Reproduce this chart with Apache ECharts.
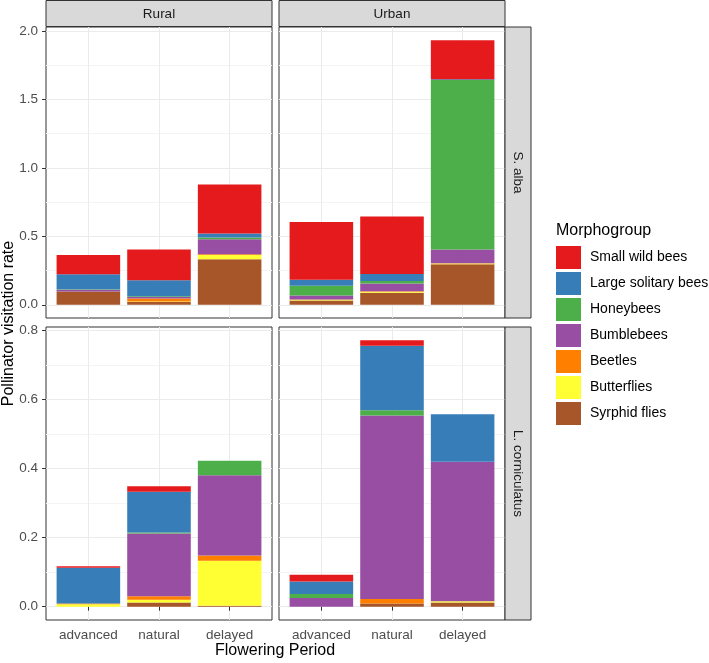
<!DOCTYPE html>
<html><head><meta charset="utf-8">
<script src="https://cdn.jsdelivr.net/npm/echarts@6/dist/echarts.min.js"></script>
<style>html,body{margin:0;padding:0;background:#fff}#c{width:709px;height:663px}</style>
</head><body><div id="c"></div>
<script>
// ---- data ----
const periods = ['advanced', 'natural', 'delayed'];
// stacking order, bottom -> top
const groups = ['Syrphid flies', 'Butterflies', 'Beetles', 'Bumblebees', 'Honeybees', 'Large solitary bees', 'Small wild bees'];
const legendOrder = groups.slice().reverse();
const groupColors = ['#A65628', '#FFFF33', '#FF7F00', '#984EA3', '#4DAF4A', '#377EB8', '#E41A1C'];
const sites = ['Rural', 'Urban'];
const plants = ['S. alba', 'L. corniculatus'];

// rows follow `groups`, columns follow `periods`
const albaRural = [
  [0.097, 0.020, 0.332],
  [0.000, 0.004, 0.032],
  [0.000, 0.022, 0.005],
  [0.013, 0.010, 0.109],
  [0.004, 0.006, 0.014],
  [0.108, 0.117, 0.029],
  [0.142, 0.224, 0.357]
];
const albaUrban = [
  [0.031, 0.088, 0.296],
  [0.005, 0.007, 0.006],
  [0.002, 0.003, 0.002],
  [0.029, 0.058, 0.099],
  [0.072, 0.017, 1.239],
  [0.044, 0.051, 0.005],
  [0.421, 0.420, 0.285]
];
const lotusRural = [
  [0.000, 0.012, 0.003],
  [0.007, 0.008, 0.130],
  [0.002, 0.010, 0.015],
  [0.000, 0.182, 0.233],
  [0.000, 0.003, 0.042],
  [0.104, 0.118, 0.000],
  [0.004, 0.016, 0.000]
];
const lotusUrban = [
  [0.000, 0.009, 0.012],
  [0.000, 0.000, 0.004],
  [0.000, 0.013, 0.000],
  [0.025, 0.532, 0.404],
  [0.012, 0.015, 0.000],
  [0.036, 0.187, 0.138],
  [0.0195, 0.016, 0.000]
];

const albaMajor = [0, 0.5, 1, 1.5, 2];
const albaMinor = [0.25, 0.75, 1.25, 1.75];
const lotusMajor = [0, 0.2, 0.4, 0.6, 0.8];
const lotusMinor = [0.1, 0.3, 0.5, 0.7];
const xTickPos = [1, 2, 3];

// ---- layout ----
const FONT = 'Liberation Sans, Arial, sans-serif';
const colX = [46, 279];
const colW = 226;
const rowY = [27, 327];
const rowH = [291, 293];

const panels = [
  { data: albaRural, row: 0, col: 0 },
  { data: albaUrban, row: 0, col: 1 },
  { data: lotusRural, row: 1, col: 0 },
  { data: lotusUrban, row: 1, col: 1 }
];
const rowMajor = [albaMajor, lotusMajor];
const rowMinor = [albaMinor, lotusMinor];
const rowDatas = [[albaRural, albaUrban], [lotusRural, lotusUrban]];

function rowMax(r) {
  let m = 0;
  rowDatas[r].forEach(d => {
    for (let j = 0; j < periods.length; j++) {
      let s = 0;
      d.forEach(row => s += row[j]);
      m = Math.max(m, s);
    }
  });
  return m;
}
const rowRange = [0, 1].map(r => { const m = rowMax(r); return [-0.05 * m, 1.05 * m]; });

const grid = [], xAxis = [], yAxis = [], series = [];
panels.forEach((p, i) => {
  const L = colX[p.col], T = rowY[p.row], H = rowH[p.row];
  const [ymin, ymax] = rowRange[p.row];
  grid.push({ left: L, top: T, width: colW, height: H, show: true, borderColor: '#333333', borderWidth: 1, backgroundColor: '#ffffff', containLabel: false });
  grid.push({ left: L + colW * 0.1 / 3.2, top: T, width: colW * 3 / 3.2, height: H, containLabel: false });
  const bottomRow = p.row === 1, leftCol = p.col === 0;
  xAxis.push({
    gridIndex: 2 * i, type: 'value', min: 0.4, max: 3.6, position: 'bottom',
    axisLine: { show: false },
    axisTick: { show: bottomRow, customValues: xTickPos, length: 4, lineStyle: { color: '#333333', width: 1 } },
    axisLabel: { show: bottomRow, customValues: xTickPos, formatter: v => periods[Math.round(v) - 1], color: '#4D4D4D', fontSize: 13.5, fontFamily: FONT, margin: 8 },
    splitLine: { show: true, lineStyle: { color: '#EBEBEB', width: 1 } }
  });
  xAxis.push({ gridIndex: 2 * i + 1, type: 'category', data: periods, show: false });
  yAxis.push({
    gridIndex: 2 * i, type: 'value', min: ymin, max: ymax, position: 'left',
    axisLine: { show: false },
    axisTick: { show: leftCol, customValues: rowMajor[p.row], length: 4, lineStyle: { color: '#333333', width: 1 } },
    axisLabel: { show: leftCol, customValues: rowMajor[p.row], formatter: v => v.toFixed(1), color: '#4D4D4D', fontSize: 13.5, fontFamily: FONT, margin: 8 },
    splitLine: { show: true, lineStyle: { color: '#EBEBEB', width: 1 } }
  });
  yAxis.push({
    gridIndex: 2 * i, type: 'value', min: ymin, max: ymax, position: 'right',
    axisLine: { show: false },
    axisTick: { show: false, customValues: rowMinor[p.row] },
    axisLabel: { show: false },
    splitLine: { show: true, lineStyle: { color: '#F4F4F4', width: 1 } }
  });
  yAxis.push({ gridIndex: 2 * i + 1, type: 'value', min: ymin, max: ymax, show: false });
  groups.forEach((g, gi) => {
    series.push({
      type: 'bar', name: g, xAxisIndex: 2 * i + 1, yAxisIndex: 3 * i + 2,
      stack: 'panel' + i, data: p.data[gi], barCategoryGap: '10%',
      itemStyle: { color: groupColors[gi] },
      emphasis: { disabled: true }, animation: false
    });
  });
});

const graphic = [];
// strips
[0, 1].forEach(c => {
  graphic.push({ type: 'rect', shape: { x: colX[c], y: 0.5, width: colW, height: 26 }, style: { fill: '#D9D9D9', stroke: '#333333', lineWidth: 1 }, z: 10 });
  graphic.push({ type: 'text', x: colX[c] + colW / 2, y: 14, style: { text: sites[c], fill: '#1A1A1A', font: '13.5px ' + FONT, textAlign: 'center', textVerticalAlign: 'middle' }, z: 11 });
});
[0, 1].forEach(r => {
  const sx = colX[1] + colW;
  graphic.push({ type: 'rect', shape: { x: sx, y: rowY[r], width: 26, height: rowH[r] }, style: { fill: '#D9D9D9', stroke: '#333333', lineWidth: 1 }, z: 10 });
  graphic.push({ type: 'text', x: sx + 13, y: rowY[r] + rowH[r] / 2, rotation: -Math.PI / 2, style: { text: plants[r], fill: '#1A1A1A', font: '13.5px ' + FONT, textAlign: 'center', textVerticalAlign: 'middle' }, z: 11 });
});
// axis titles
graphic.push({ type: 'text', x: 9, y: 323.5, rotation: Math.PI / 2, style: { text: 'Pollinator visitation rate', fill: '#000', font: '16px ' + FONT, textAlign: 'center', textVerticalAlign: 'middle' } });
graphic.push({ type: 'text', x: 275, y: 651, style: { text: 'Flowering Period', fill: '#000', font: '16px ' + FONT, textAlign: 'center', textVerticalAlign: 'middle' } });
graphic.push({ type: 'text', x: 556, y: 231, style: { text: 'Morphogroup', fill: '#000', font: '16px ' + FONT, textAlign: 'left', textVerticalAlign: 'middle' } });

const chart = echarts.init(document.getElementById('c'), null, { renderer: 'canvas' });
chart.setOption({
  animation: false,
  backgroundColor: '#ffffff',
  grid, xAxis, yAxis, series, graphic,
  legend: {
    data: legendOrder, orient: 'vertical', left: 556, top: 246,
    itemWidth: 25, itemHeight: 23, itemGap: 3, icon: 'rect', padding: 0,
    textStyle: { fontSize: 14, color: '#000', fontFamily: FONT, padding: [0, 0, 0, 4] },
    itemStyle: { borderWidth: 0 }
  }
});
</script></body></html>
